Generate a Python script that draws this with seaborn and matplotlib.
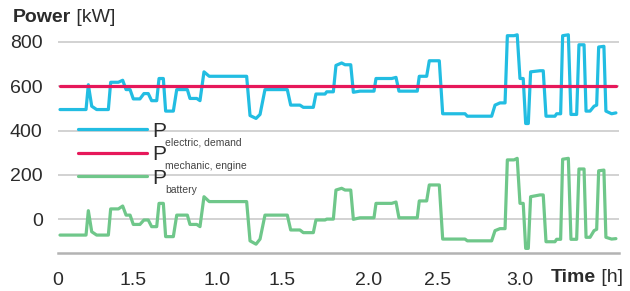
#!/usr/bin/env python3

import pandas as pd
import seaborn as sns
from matplotlib import pyplot as plt

# time in hours, power in kW
time_h = [0.013, 0.182, 0.197, 0.219, 0.251, 0.327, 0.342, 0.392, 0.420, 0.442,
          0.468, 0.489, 0.532, 0.558, 0.586, 0.608, 0.641, 0.656, 0.684, 0.699,
          0.749, 0.771, 0.840, 0.857, 0.901, 0.922, 0.948, 0.982, 1.225, 1.247,
          1.286, 1.312, 1.344, 1.489, 1.511, 1.571, 1.593, 1.658, 1.675, 1.734,
          1.745, 1.788, 1.805, 1.842, 1.864, 1.901, 1.918, 1.961, 2.052, 2.065,
          2.167, 2.195, 2.214, 2.333, 2.346, 2.394, 2.411, 2.476, 2.498, 2.643,
          2.658, 2.816, 2.838, 2.870, 2.903, 2.918, 2.961, 2.982, 3.000, 3.021,
          3.037, 3.054, 3.069, 3.130, 3.151, 3.169, 3.227, 3.238, 3.264, 3.277,
          3.314, 3.331, 3.368, 3.383, 3.416, 3.429, 3.455, 3.481, 3.498, 3.511,
          3.545, 3.558, 3.595, 3.623]

p_electric = [495, 495, 607, 510, 495, 495, 618, 618, 627, 585,
              585, 543, 543, 567, 567, 535, 535, 635, 635, 488,
              488, 585, 585, 545, 545, 535, 665, 645, 645, 468,
              455, 473, 585, 585, 515, 515, 505, 505, 565, 565,
              575, 575, 694, 705, 697, 697, 573, 578, 578, 635,
              635, 640, 578, 578, 645, 645, 715, 715, 476, 476,
              465, 465, 515, 525, 525, 828, 828, 832, 635, 635,
              432, 432, 665, 670, 670, 465, 465, 476, 476, 828,
              832, 473, 473, 787, 787, 488, 488, 510, 515, 777,
              780, 488, 476, 480]

p_battery = [-71, -71, 39, -56, -71, -71, 47, 47, 60, 19,
             19, -23, -23, -3, -3, -33, -33, 72, 72, -78,
             -78, 19, 19, -23, -23, -33, 102, 80, 80, -97,
             -112, -89, 19, 19, -48, -48, -60, -60, -3, -3,
             1, 1, 132, 140, 132, 132, 0, 7, 7, 72,
             72, 78, 7, 7, 83, 83, 155, 155, -89, -89,
             -97, -97, -51, -42, -42, 268, 268, 275, 72, 72,
             -131, -131, 102, 110, 110, -101, -101, -90, -90, 271,
             275, -90, -90, 227, 227, -81, -81, -51, -45, 219,
             222, -81, -89, -87]

time_engine = [0.013, 3.623]
p_engine = [600, 600]

series_names = ["electric", "engine", "battery"]
subscripts = ["electric, demand", "mechanic, engine", "battery"]
colors = ["#22BDE2", "#E6185A", "#6FC78A"]

xtick_pos = [0, 0.487, 1.032, 1.455, 2.019, 2.468, 3.0]
xtick_labels = ["0", "1.5", "1.0", "1.5", "2.0", "2.5", "3.0"]
ytick_pos = [0, 200, 400, 600, 800]


def main():
    sns.set_style("white")
    plt.rcParams["font.family"] = ["Liberation Sans", "DejaVu Sans"]
    text_color = "#2b2b2b"

    df = pd.concat([
        pd.DataFrame({"Time": time_h, "Power": p_electric, "Series": "electric"}),
        pd.DataFrame({"Time": time_engine, "Power": p_engine, "Series": "engine"}),
        pd.DataFrame({"Time": time_h, "Power": p_battery, "Series": "battery"}),
    ], ignore_index=True)

    fig = plt.figure(figsize=(6.3, 2.91), dpi=100)
    ax = fig.add_axes([58 / 630, 1 - 252.6 / 291, 561 / 630, 224 / 291])

    sns.lineplot(df, x="Time", y="Power", hue="Series", hue_order=series_names,
                 palette=colors, estimator=None, sort=False, linewidth=2.3,
                 legend=False, ax=ax)

    ax.set_xlim(0, 3.643)
    ax.set_ylim(-150, 860)
    ax.set_xticks(xtick_pos, xtick_labels)
    ax.set_yticks(ytick_pos, [str(v) for v in ytick_pos])
    ax.tick_params(axis="both", length=0, labelsize=14, colors=text_color)
    ax.tick_params(axis="y", pad=11)
    ax.tick_params(axis="x", pad=14)
    ax.set_xlabel("")
    ax.set_ylabel("")
    ax.grid(axis="y", color="#cfcfcf", linewidth=1.3)
    ax.set_axisbelow(True)
    for side in ["top", "right", "left"]:
        ax.spines[side].set_visible(False)
    ax.spines["bottom"].set_color("#b3b3b3")
    ax.spines["bottom"].set_linewidth(1.8)

    leg = ax.legend(ax.get_lines()[:3], ["P", "P", "P"], loc="upper left",
                    bbox_to_anchor=(0.036, 0.585), frameon=False, fontsize=15,
                    handlelength=3.3, handletextpad=0.25, labelspacing=0.22,
                    borderpad=0, borderaxespad=0)
    for txt in leg.get_texts():
        txt.set_color(text_color)

    t1 = fig.text(13 / 630, 1 - 17 / 291, "Power", weight="bold", fontsize=14,
                  color=text_color, va="center", ha="left")
    t2 = fig.text(551 / 630, 1 - 278 / 291, "Time", weight="bold", fontsize=14,
                  color=text_color, va="center", ha="left")

    # place subscripts and unit labels once the layout is known
    fig.canvas.draw()
    for txt, sub in zip(leg.get_texts(), subscripts):
        bb = txt.get_window_extent()
        fig.text(bb.x1 - 1, bb.y0 + 3, sub, transform=None, va="top", ha="left",
                 fontsize=7.5, color="#444444")
    for t, unit in [(t1, " [kW]"), (t2, " [h]")]:
        bb = t.get_window_extent()
        fig.text(bb.x1, bb.y0, unit, transform=None, va="bottom", ha="left",
                 fontsize=14, color=text_color)

    fig.savefig("out.png", dpi=100)
    plt.close(fig)


if __name__ == '__main__':
    main()
